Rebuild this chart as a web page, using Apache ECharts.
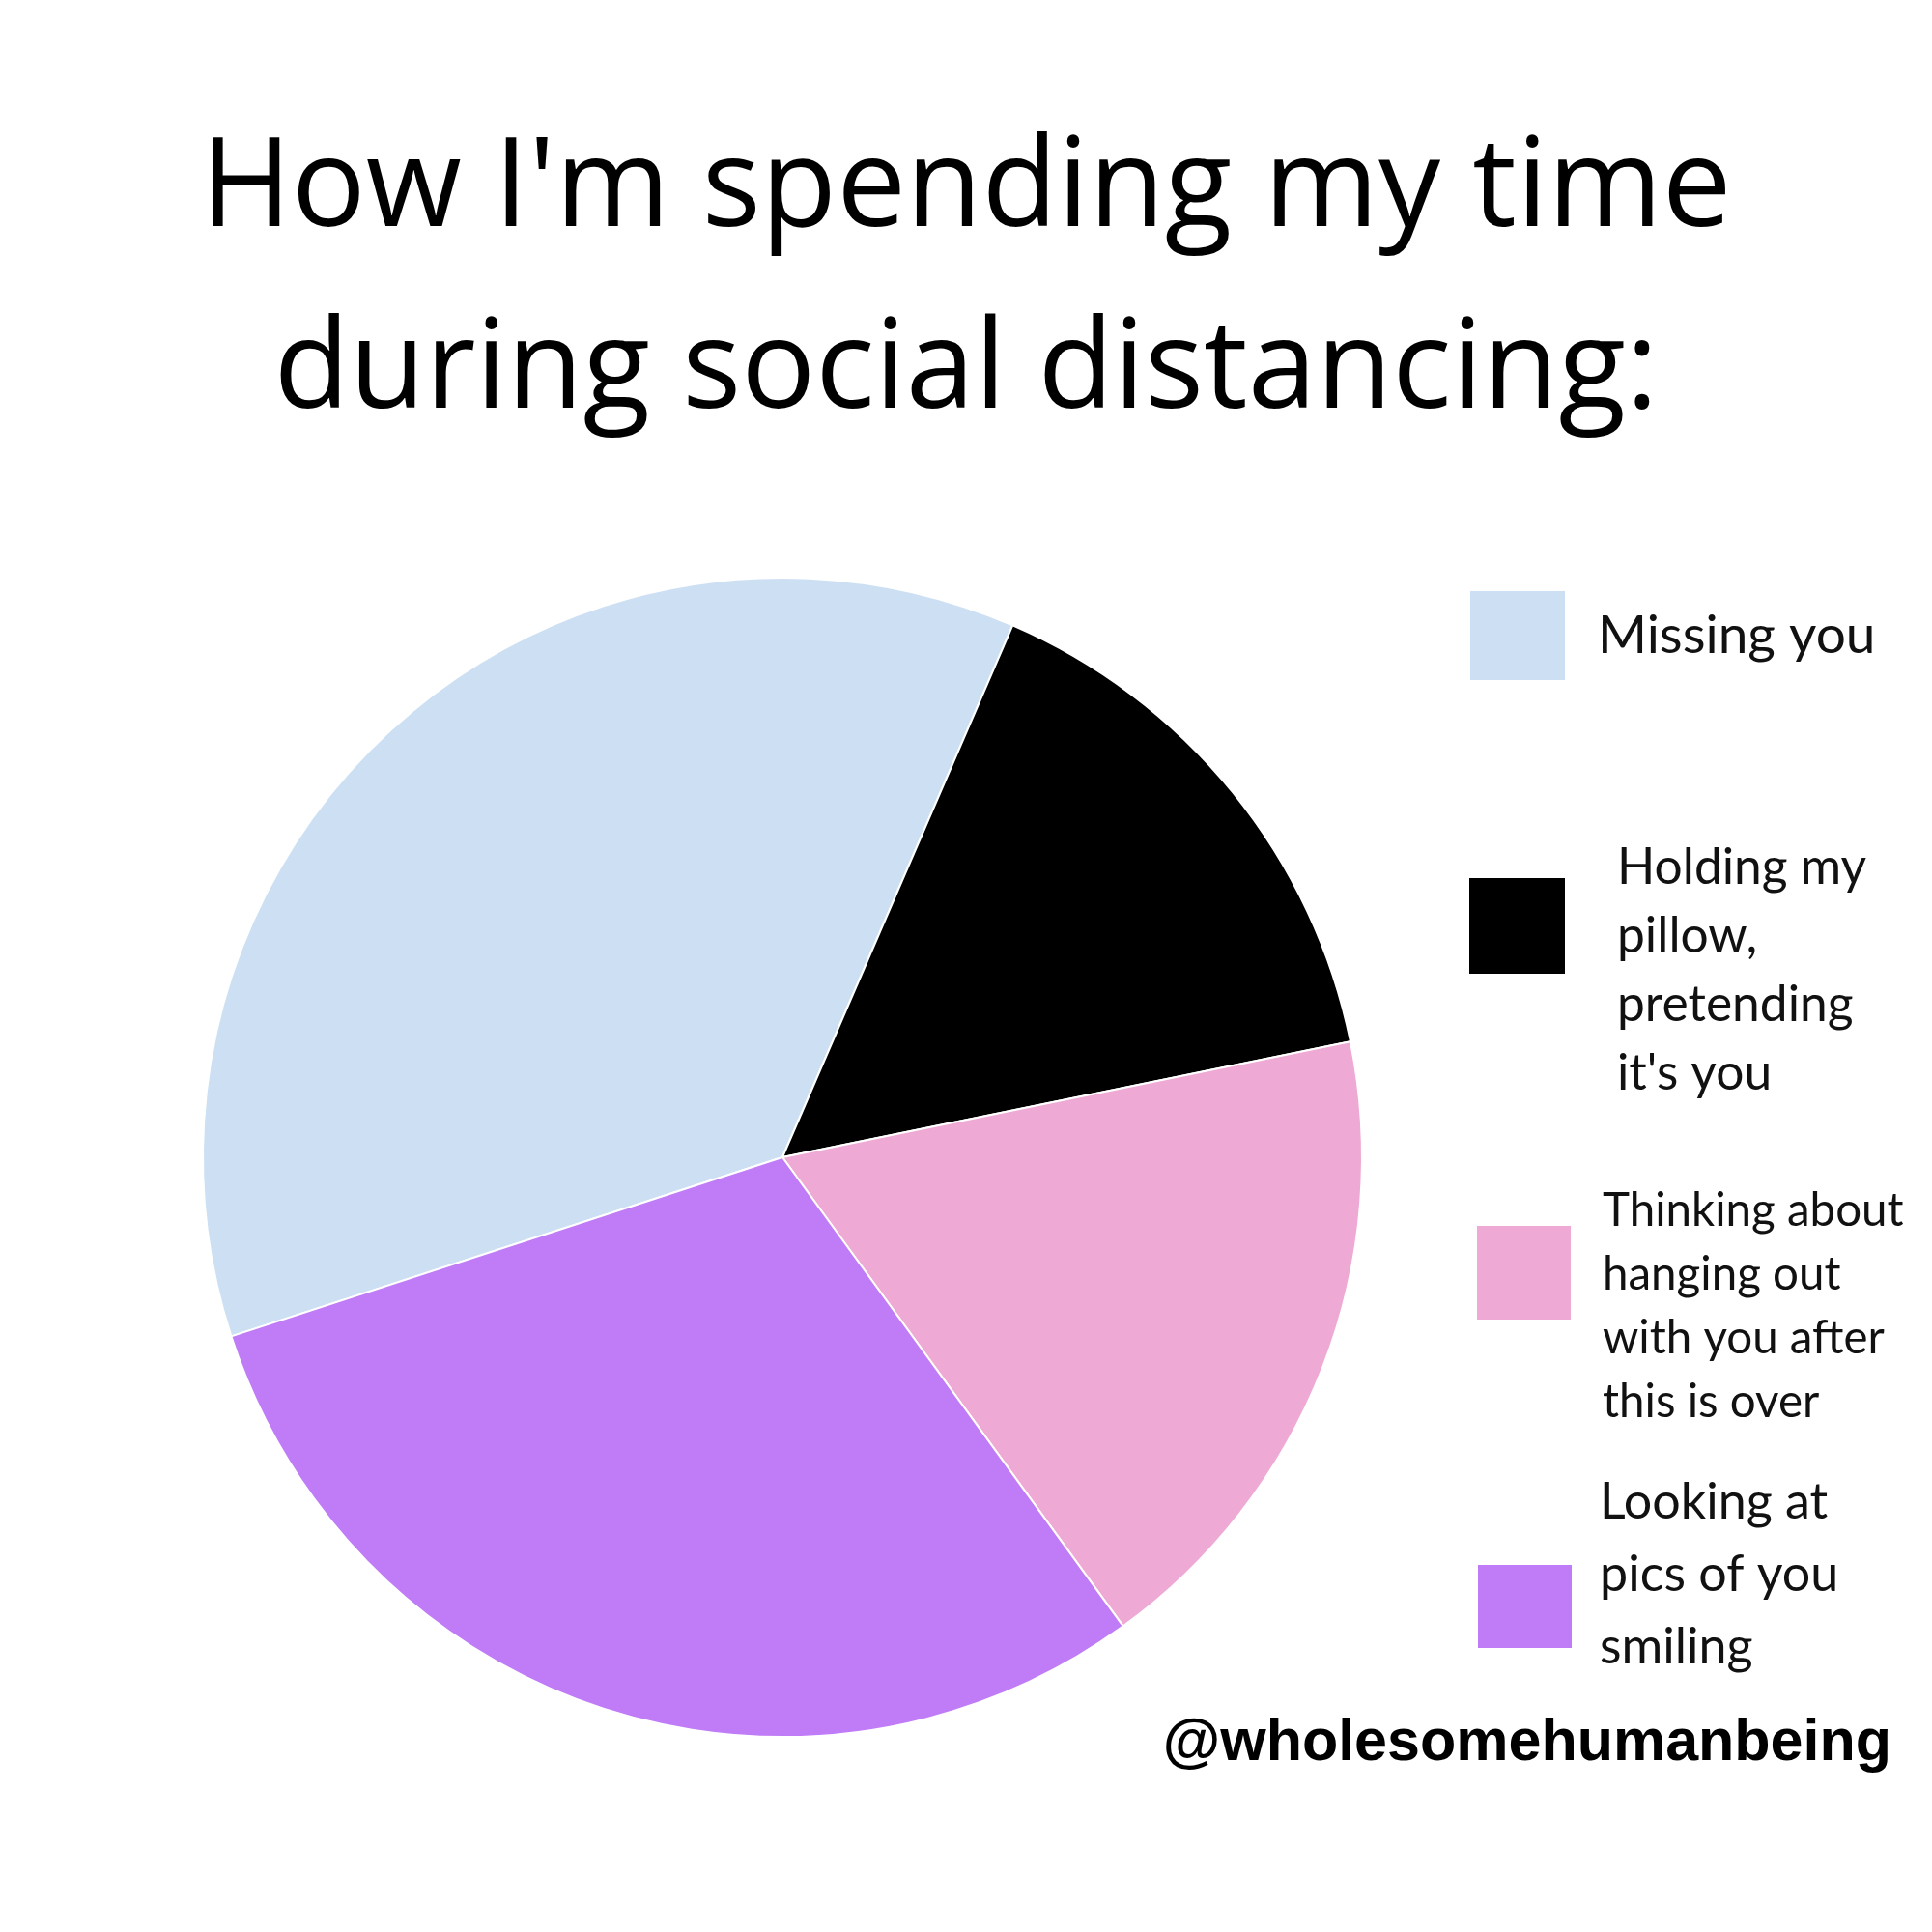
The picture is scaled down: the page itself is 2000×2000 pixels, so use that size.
<!DOCTYPE html>
<html>
<head>
<meta charset="utf-8">
<script src="https://cdn.jsdelivr.net/npm/echarts@6/dist/echarts.min.js"></script>
<style>html,body{margin:0;padding:0;background:#fff;}#c{width:2000px;height:2000px;}</style>
</head>
<body>
<div id="c"></div>
<script>
// ---- data ----
const titleLines = ["How I'm spending my time", "during social distancing:"];
const categories = ["Missing you", "Holding my pillow, pretending it's you", "Thinking about hanging out with you after this is over", "Looking at pics of you smiling"];
const legendLines = [
  ["Missing you"],
  ["Holding my", "pillow,", "pretending", "it's you"],
  ["Thinking about", "hanging out", "with you after", "this is over"],
  ["Looking at", "pics of you", "smiling"]
];
const values = [36.5, 15.3, 18.2, 30.0];
const colors = ["#cde0f3", "#000000", "#eeaad4", "#c07cf6"];
const watermark = "@wholesomehumanbeing";

// ---- layout/style ----
const legendFont = "Lato";
// blockTop: top of the legend text block; sq: [offset of square from blockTop, square height]
const legendLayout = [
  {left: 1522, w: 98, blockTop: 612, fs: 55,   lh: 70, sq: null,      h: 92, gap: 29},
  {left: 1521, w: 99, blockTop: 863, fs: 51.5, lh: 71, sq: [46, 99],  gap: 49},
  {left: 1529, w: 97, blockTop: 1221, fs: 47.5, lh: 66, sq: [48, 97], gap: 28},
  {left: 1530, w: 97, blockTop: 1518, fs: 52,  lh: 75, sq: [102, 86], gap: 24}
];

const chart = echarts.init(document.getElementById('c'), null, {renderer: 'canvas'});
const legends = categories.map((name, i) => {
  const L = legendLayout[i];
  let icon = 'rect', itemHeight = L.h;
  if (L.sq) {
    itemHeight = legendLines[i].length * L.lh;
    const a = L.sq[0], b = L.sq[0] + L.sq[1], W = L.w, H = itemHeight;
    // square placed inside a W x H icon box (zero-area anchor points keep the box size)
    icon = `path://M0,0L0,0M0,${a}L${W},${a}L${W},${b}L0,${b}ZM${W},${H}L${W},${H}`;
  }
  return {
    data: [name],
    left: L.left, top: L.blockTop, padding: 0,
    orient: 'vertical',
    icon: icon,
    itemWidth: L.w, itemHeight: itemHeight,
    itemStyle: {borderWidth: 0},
    selectedMode: false,
    formatter: () => legendLines[i].map(s => '{t|' + s + '}').join('\n'),
    textStyle: {
      color: '#111',
      rich: {
        t: {fontFamily: legendFont, fontSize: L.fs, lineHeight: L.lh, color: '#111', padding: [0, 0, 0, L.gap]}
      }
    }
  };
});

chart.setOption({
  backgroundColor: '#ffffff',
  animation: false,
  title: [
    {
      text: titleLines.join('\n'),
      left: 'center', top: 104, padding: 0,
      textStyle: {fontFamily: 'Open Sans', fontWeight: 'normal', fontSize: 128, lineHeight: 188, color: '#000'}
    },
    {
      text: watermark,
      right: 42, top: 1775, padding: 0,
      textStyle: {fontFamily: 'Liberation Sans', fontWeight: 'bold', fontSize: 61, color: '#000'}
    }
  ],
  legend: legends,
  series: [{
    type: 'pie',
    center: [810, 1198],
    radius: 600,
    startAngle: 198,
    clockwise: true,
    label: {show: false},
    labelLine: {show: false},
    emphasis: {disabled: true},
    itemStyle: {borderColor: '#ffffff', borderWidth: 2},
    color: colors,
    data: categories.map((n, i) => ({name: n, value: values[i]}))
  }]
});
</script>
</body>
</html>
